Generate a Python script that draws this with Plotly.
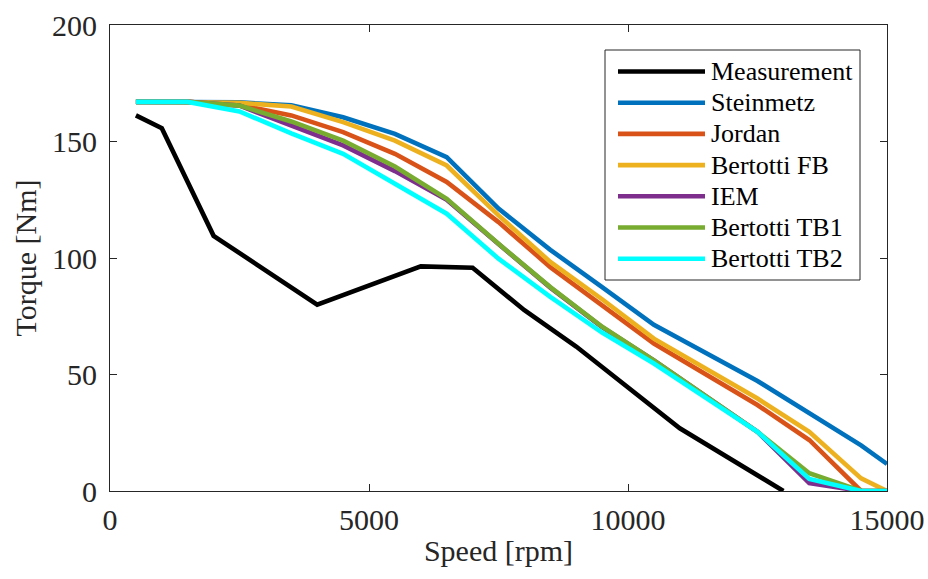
import plotly.graph_objects as go

# Measurement
meas_speed = [500, 1000, 2000, 4000, 6000, 7000, 8000, 9000, 11000, 13000]
meas_torque = [161.2, 155.7, 109.5, 80.0, 96.4, 95.8, 77.6, 62.0, 26.9, 0.0]

# Models share the speed grid
model_speed = [500, 1500, 2500, 3500, 4500, 5500, 6500, 7500, 8500, 9500, 10500, 12500, 13500, 14500, 15000]
steinmetz = [167, 167, 166.8, 165.5, 160.4, 153.3, 143.3, 121.2, 103.5, 87.5, 71.3, 47.2, 33.4, 19.6, 11.6]
jordan = [167, 167, 165.7, 161.2, 154.0, 144.7, 132.6, 115.4, 96.1, 80.0, 63.3, 36.9, 21.9, 0.0, 0.0]
bertotti_fb = [167, 167, 166.6, 165.0, 158.3, 150.4, 139.7, 118.3, 98.3, 82.3, 65.4, 39.7, 25.4, 5.4, 0.0]
iem = [167, 167, 165.4, 156.6, 148.3, 137.3, 125.0, 106.0, 87.3, 70.3, 56.0, 25.4, 3.4, 0.0, 0.0]
bertotti_tb1 = [167, 167, 165.4, 158.6, 150.4, 139.3, 125.4, 106.1, 87.5, 70.5, 56.1, 25.4, 7.6, 0.0, 0.0]
bertotti_tb2 = [167, 167, 162.9, 153.5, 144.7, 132.1, 119.0, 99.7, 83.3, 68.0, 54.7, 25.4, 5.2, 0.0, 0.0]

x_ticks = [0, 5000, 10000, 15000]
x_ticklabels = ["0", "5000", "10000", "15000"]
y_ticks = [0, 50, 100, 150, 200]
y_ticklabels = ["0", "50", "100", "150", "200"]

series = [
    ("Measurement", meas_speed, meas_torque, "#000000"),
    ("Steinmetz", model_speed, steinmetz, "#0072BD"),
    ("Jordan", model_speed, jordan, "#D95319"),
    ("Bertotti FB", model_speed, bertotti_fb, "#EDB120"),
    ("IEM", model_speed, iem, "#7E2F8E"),
    ("Bertotti TB1", model_speed, bertotti_tb1, "#77AC30"),
    ("Bertotti TB2", model_speed, bertotti_tb2, "#00FFFF"),
]

FONT = "Liberation Serif"
TXT = "#262626"
W, H = 928, 579
ML, MR, MT, MB = 110, 41, 25, 88
PW, PH = W - ML - MR, H - MT - MB

fig = go.Figure()
for name, xs, ys, col in series:
    fig.add_trace(go.Scatter(x=xs, y=ys, mode="lines", name=name,
                             line=dict(color=col, width=4.6), showlegend=False))

axis_common = dict(
    showline=True, linecolor=TXT, linewidth=1, mirror="ticks",
    ticks="inside", ticklen=7, tickcolor=TXT, tickwidth=1,
    showgrid=False, zeroline=False, automargin=False,
    tickfont=dict(family=FONT, size=30, color=TXT),
)
fig.update_xaxes(range=[0, 15000], tickvals=x_ticks, ticktext=x_ticklabels,
                 ticklabelstandoff=2,
                 title=dict(text="Speed [rpm]", font=dict(family=FONT, size=30, color=TXT), standoff=4),
                 **axis_common)
fig.update_yaxes(range=[0, 200], tickvals=y_ticks, ticktext=y_ticklabels,
                 ticklabelstandoff=6,
                 title=dict(text="Torque [Nm]", font=dict(family=FONT, size=30, color=TXT), standoff=6),
                 **axis_common)

# Legend drawn in the MATLAB style (box, long line samples) in paper coordinates
def px_x(p):
    return (p - ML) / PW

def px_y(p):
    return (H - MB - p) / PH

box = dict(x0=605, x1=860, y0=50, y1=280)
fig.add_shape(type="rect", xref="paper", yref="paper",
              x0=px_x(box["x0"]), x1=px_x(box["x1"]),
              y0=px_y(box["y1"]), y1=px_y(box["y0"]),
              line=dict(color=TXT, width=1), fillcolor="white", layer="above")
row0, step = 71.5, 31.2
for i, (name, _, _, col) in enumerate(series):
    yy = px_y(row0 + i * step)
    fig.add_shape(type="line", xref="paper", yref="paper",
                  x0=px_x(618), x1=px_x(705), y0=yy, y1=yy,
                  line=dict(color=col, width=4.6), layer="above")
    fig.add_annotation(xref="paper", yref="paper", x=px_x(709), y=yy,
                       text=name, showarrow=False, xanchor="left", yanchor="middle",
                       font=dict(family=FONT, size=26, color="black"))

fig.update_layout(
    width=W, height=H,
    margin=dict(l=ML, r=MR, t=MT, b=MB),
    paper_bgcolor="white", plot_bgcolor="white",
    showlegend=False,
)
fig.write_html("out.html", config={"displayModeBar": False},
               post_script="document.body.style.margin='0px';document.body.style.overflow='hidden';")
